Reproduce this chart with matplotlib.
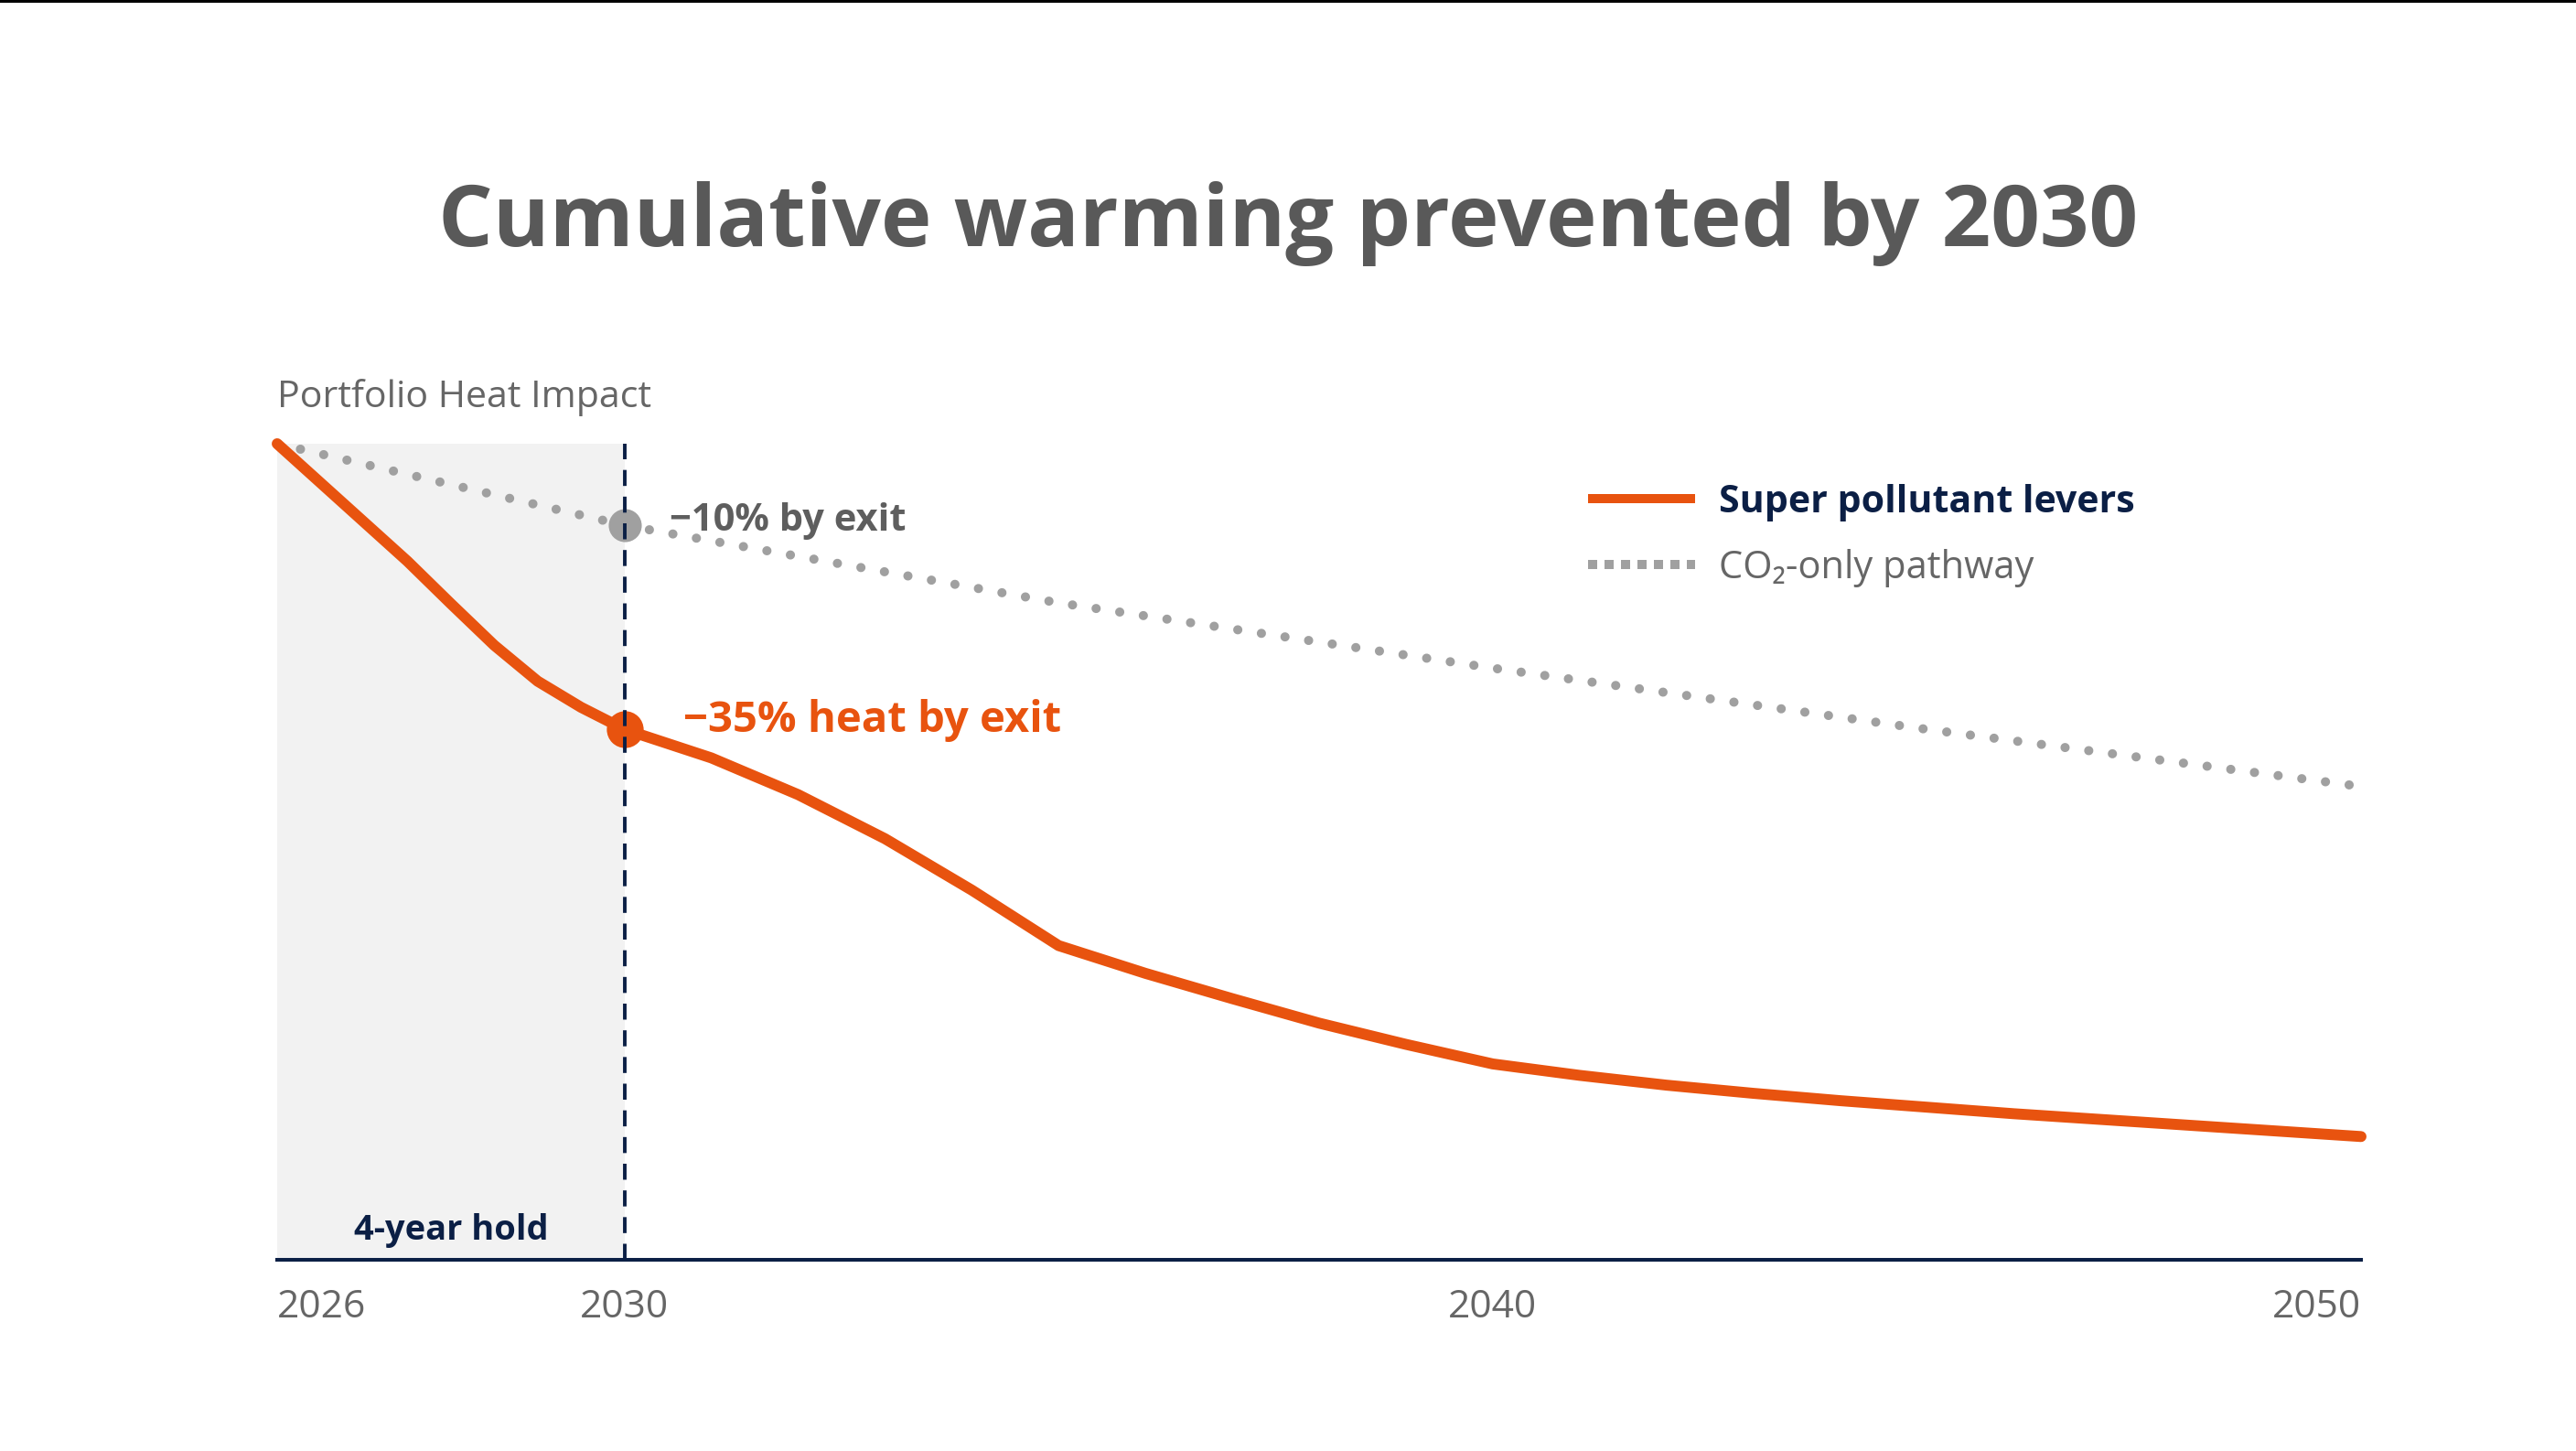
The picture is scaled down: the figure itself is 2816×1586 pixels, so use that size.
import matplotlib
matplotlib.use("Agg")
import matplotlib.pyplot as plt
from matplotlib.lines import Line2D
from matplotlib.patches import Rectangle

plt.rcParams['font.family'] = ['Open Sans', 'DejaVu Sans']

# data (index, 2026 = 100)
years = [2026, 2026.5, 2027, 2027.5, 2028, 2028.5, 2029, 2029.5, 2030, 2031, 2032, 2033, 2034,
         2035, 2036, 2037, 2038, 2039, 2040, 2041, 2042, 2043, 2044, 2045, 2046, 2047, 2048,
         2049, 2050]
super_pollutant = [100, 95.2, 90.4, 85.6, 80.4, 75.3, 70.9, 67.7, 65, 61.5, 57.0, 51.6, 45.3,
                   38.5, 35.1, 32.0, 29.0, 26.4, 24, 22.6, 21.4, 20.4, 19.5, 18.7, 17.9, 17.2,
                   16.5, 15.8, 15.1]
co2_years = [2026, 2030, 2035, 2040, 2045, 2050]
co2_only = [100, 90, 80.5, 72.5, 65, 58]
exit_year = 2030
tick_years = [2026, 2030, 2040, 2050]

ORANGE = '#E8530F'
NAVY = '#0B1F45'
DOTS = '#A0A0A0'
TXT = '#666666'

fig = plt.figure(figsize=(14.08, 7.93), dpi=200)
ax = fig.add_axes([303 / 2816, 1 - 1377 / 1586, (2581 - 303) / 2816, (1377 - 485) / 1586])

ax.axvspan(years[0], exit_year, color='#F2F2F2', lw=0, zorder=0)

ax.plot(co2_years, co2_only, color=DOTS, lw=3.6, linestyle=(0, (0.01, 2.6)),
        dash_capstyle='round', clip_on=False, zorder=2)
ax.plot(years, super_pollutant, color=ORANGE, lw=4.3, solid_capstyle='round',
        solid_joinstyle='round', clip_on=False, zorder=3)

i_exit = years.index(exit_year)
c_exit = co2_years.index(exit_year)
ax.plot(exit_year, co2_only[c_exit], 'o', ms=13, color=DOTS, mew=0, zorder=4, clip_on=False)
ax.plot(exit_year, super_pollutant[i_exit], 'o', ms=14.5, color=ORANGE, mew=0, zorder=4, clip_on=False)
ax.axvline(exit_year, color=NAVY, lw=1.4, linestyle=(0, (4.5, 3)), zorder=5)

ax.annotate('\u221210% by exit', xy=(exit_year, co2_only[c_exit]), xytext=(17.6, -2.2),
            textcoords='offset points', fontsize=15, fontweight='bold', color='#5E5E5E',
            va='baseline', ha='left')
ax.annotate('\u221235% heat by exit', xy=(exit_year, super_pollutant[i_exit]), xytext=(23, -1),
            textcoords='offset points', fontsize=17, fontweight='bold', color=ORANGE,
            va='baseline', ha='left')

ax.text((years[0] + exit_year) / 2, (1377 - 1355) / 892, '4-year hold', transform=ax.get_xaxis_transform(),
        ha='center', va='baseline', fontsize=13.7, fontweight='bold', color=NAVY)

ax.set_xlim(years[0], years[-1])
ax.set_ylim(0, 100)
for s in ['top', 'right', 'left']:
    ax.spines[s].set_visible(False)
ax.spines['bottom'].set_color(NAVY)
ax.spines['bottom'].set_linewidth(1.45)
ax.set_yticks([])
ax.set_xticks(tick_years)
ax.set_xticklabels([str(y) for y in tick_years])
ax.tick_params(axis='x', length=0, pad=11, labelsize=15.3, labelcolor=TXT)
labels = ax.get_xticklabels()
labels[0].set_ha('left')
labels[-1].set_ha('right')
ax.patch.set_alpha(0)

ax.text(0, (1377 - 445) / 892, 'Portfolio Heat Impact', transform=ax.transAxes,
        ha='left', va='baseline', fontsize=14.8, color=TXT)

fig.text(0.5, 1 - 269 / 1586, 'Cumulative warming prevented by 2030', ha='center', va='baseline',
         fontsize=33.8, fontweight='bold', color='#595959')

# legend
fig.add_artist(Line2D([1736 / 2816, 1853 / 2816], [1 - 545 / 1586] * 2, color=ORANGE, lw=3.6,
                      solid_capstyle='butt'))
fig.add_artist(Line2D([1736 / 2816, 1853 / 2816], [1 - 617 / 1586] * 2, color=DOTS, lw=3.6,
                      linestyle=(0, (1, 0.8)), dash_capstyle='butt'))
fig.text(1879 / 2816, 1 - 560 / 1586, 'Super pollutant levers', ha='left', va='baseline',
         fontsize=14.8, fontweight='bold', color=NAVY)
fig.text(1879 / 2816, 1 - 632 / 1586, 'CO\u2082-only pathway', ha='left', va='baseline',
         fontsize=15, color=TXT)

# thin frame line at the top edge
fig.add_artist(Rectangle((0, 1 - 2.5 / 1586), 1, 2.5 / 1586, transform=fig.transFigure,
                         color='black', lw=0))

fig.savefig('out.png', dpi=200, facecolor='white')
